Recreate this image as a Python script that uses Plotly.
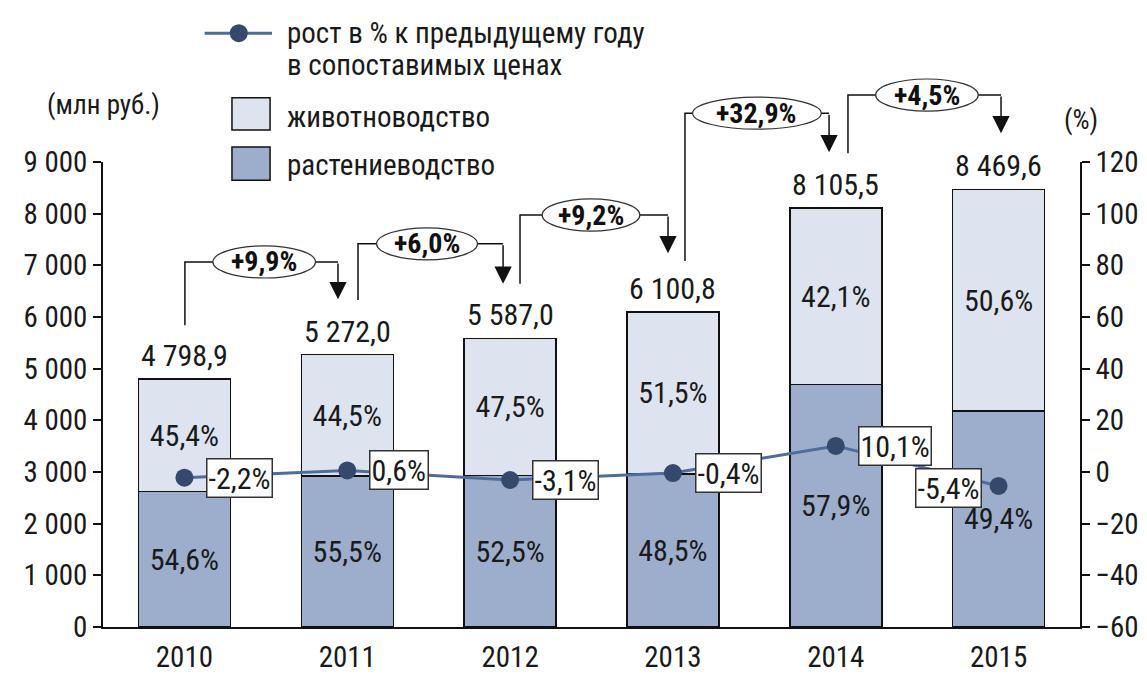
import plotly.graph_objects as go

# ---------------- data ----------------
years = ["2010", "2011", "2012", "2013", "2014", "2015"]
totals = [4798.9, 5272.0, 5587.0, 6100.8, 8105.5, 8469.6]
rast_share = [54.6, 55.5, 52.5, 48.5, 57.9, 49.4]      # растениеводство, %
zhiv_share = [45.4, 44.5, 47.5, 51.5, 42.1, 50.6]      # животноводство, %
rast_values = [2620.2, 2926.0, 2933.2, 2958.9, 4693.1, 4184.0]
zhiv_values = [2178.7, 2346.0, 2653.8, 3141.9, 3412.4, 4285.6]
growth = [-2.2, 0.6, -3.1, -0.4, 10.1, -5.4]            # рост в % к предыдущему году
nominal_growth = ["+9,9%", "+6,0%", "+9,2%", "+32,9%", "+4,5%"]

left_ticks = [0, 1000, 2000, 3000, 4000, 5000, 6000, 7000, 8000, 9000]
right_ticks = [-60, -40, -20, 0, 20, 40, 60, 80, 100, 120]

# ---------------- style ----------------
FONT = "Liberation Sans Narrow, Arial Narrow, Roboto Condensed, DejaVu Sans Condensed, Liberation Sans, sans-serif"
TXT = "#1a1a1a"
FS = 30
LIGHT = "#dde4ef"
DARK = "#9caecb"
LINE_C = "#4d6d9e"
MARK_C = "#34496b"

def fmt(v, nd=1):
    s = f"{v:,.{nd}f}"
    return s.replace(",", " ").replace(".", ",")

def pct(v):
    return fmt(v) + "%"

x_idx = list(range(len(years)))

fig = go.Figure()
fig.add_trace(go.Bar(
    x=x_idx, y=rast_values, name="растениеводство",
    marker=dict(color=DARK, line=dict(color="#111111", width=1.5)),
    text=[pct(v) for v in rast_share], textposition="inside",
    insidetextanchor="middle", textangle=0,
    textfont=dict(family=FONT, size=FS, color=TXT),
    hoverinfo="skip",
))
fig.add_trace(go.Bar(
    x=x_idx, y=zhiv_values, name="животноводство",
    marker=dict(color=LIGHT, line=dict(color="#111111", width=1.5)),
    text=[pct(v) for v in zhiv_share], textposition="inside",
    insidetextanchor="middle", textangle=0,
    textfont=dict(family=FONT, size=FS, color=TXT),
    hoverinfo="skip",
))
fig.add_trace(go.Scatter(
    x=x_idx, y=growth, yaxis="y2", mode="lines+markers",
    name="рост в % к предыдущему году в сопоставимых ценах",
    line=dict(color=LINE_C, width=3),
    marker=dict(color=MARK_C, size=18),
    hoverinfo="skip",
))

annotations = []
shapes = []

# totals above bars
for i, t in enumerate(totals):
    annotations.append(dict(
        x=i, y=t, xref="x", yref="y", text=fmt(t), showarrow=False,
        xanchor="center", yanchor="bottom", yshift=4,
        font=dict(family=FONT, size=FS, color=TXT)))

# growth labels in boxes
for i, g in enumerate(growth):
    last = i == len(growth) - 1
    annotations.append(dict(
        x=i, y=g, xref="x", yref="y2", text=pct(g), showarrow=False,
        xanchor="right" if last else "left", yanchor="middle",
        xshift=-17 if last else 22, yshift=-2 if last else 0,
        bgcolor="white", bordercolor="#333333", borderwidth=1.5, borderpad=1,
        font=dict(family=FONT, size=FS, color=TXT)))

# nominal growth brackets (decoration positions, paper y fractions of plot height)
src_off = [0.003, 0.066, 0.061, 0.074, 0.075]
dst_off = [-0.057, -0.043, -0.03, -0.041, 0.015]
ell_cx = [0.49, 1.49, 2.497, 3.516, 4.56]
ell_w = [0.63, 0.62, 0.60, 0.79, 0.63]
src_bot = [0.649, 0.703, 0.738, 0.787, 1.019]
top_y = [0.785, 0.824, 0.886, 1.105, 1.144]
tip_y = [0.705, 0.738, 0.804, 1.021, 1.062]
ELL_H = 0.069

for k in range(len(nominal_growth)):
    xs = k + src_off[k]
    xd = k + 1 + dst_off[k]
    shapes.append(dict(type="path", xref="x", yref="paper",
                       path=f"M{xs},{src_bot[k]} L{xs},{top_y[k]} L{xd},{top_y[k]}",
                       line=dict(color="#111111", width=1.5)))
    shapes.append(dict(type="circle", xref="x", yref="paper",
                       x0=ell_cx[k] - ell_w[k] / 2, x1=ell_cx[k] + ell_w[k] / 2,
                       y0=top_y[k] - ELL_H / 2, y1=top_y[k] + ELL_H / 2,
                       fillcolor="white", line=dict(color="#333333", width=1.2)))
    annotations.append(dict(x=ell_cx[k], y=top_y[k], xref="x", yref="paper",
                            text="<b>" + nominal_growth[k] + "</b>", showarrow=False,
                            xanchor="center", yanchor="middle",
                            font=dict(family=FONT, size=FS - 2, color="#111111")))
    annotations.append(dict(x=xd, y=tip_y[k], xref="x", yref="paper",
                            ax=0, ay=-(top_y[k] - tip_y[k]) * 465,
                            showarrow=True, arrowhead=2, arrowsize=2.3,
                            arrowwidth=1.5, arrowcolor="#111111", text=""))

# axis unit labels
annotations.append(dict(x=0.0, y=1.123, xref="paper", yref="paper", text="(млн руб.)",
                        showarrow=False, xanchor="center", yanchor="middle",
                        font=dict(family=FONT, size=FS - 3, color=TXT)))
annotations.append(dict(x=1.001, y=1.09, xref="paper", yref="paper", text="(%)",
                        showarrow=False, xanchor="center", yanchor="middle",
                        font=dict(family=FONT, size=FS - 3, color=TXT)))

# custom legend
shapes.append(dict(type="line", xref="paper", yref="paper", x0=0.104, x1=0.173,
                   y0=1.277, y1=1.277, line=dict(color=LINE_C, width=3)))
shapes.append(dict(type="circle", xref="paper", yref="paper", xsizemode="pixel",
                   ysizemode="pixel", xanchor=0.139, yanchor=1.277,
                   x0=-9, x1=9, y0=-9, y1=9, fillcolor=MARK_C, line=dict(width=0)))
shapes.append(dict(type="rect", xref="paper", yref="paper", x0=0.132, x1=0.171,
                   y0=1.069, y1=1.138, fillcolor=LIGHT, line=dict(color="#111111", width=1.5)))
shapes.append(dict(type="rect", xref="paper", yref="paper", x0=0.132, x1=0.171,
                   y0=0.961, y1=1.032, fillcolor=DARK, line=dict(color="#111111", width=1.5)))
for txt, yy in [("рост в % к предыдущему году", 1.277), ("в сопоставимых ценах", 1.209),
                ("животноводство", 1.097), ("растениеводство", 0.994)]:
    annotations.append(dict(x=0.186, y=yy, xref="paper", yref="paper", text=txt,
                            showarrow=False, xanchor="left", yanchor="middle",
                            font=dict(family=FONT, size=FS - 1, color=TXT)))

# page body has an 8px margin: figure is sized/offset to compensate
fig.update_layout(
    width=1131, height=669,
    margin=dict(l=95, r=59, t=154, b=50, autoexpand=False),
    paper_bgcolor="white", plot_bgcolor="white",
    barmode="stack", bargap=0.435,
    showlegend=False,
    separators=", ",
    font=dict(family=FONT, size=FS, color=TXT),
    xaxis=dict(type="linear", range=[-0.5, 5.5], tickvals=x_idx, ticktext=years,
               automargin=False, ticklabelstandoff=3,
               showline=True, linecolor="#111111", linewidth=1.5,
               showgrid=False, zeroline=False, ticks="", ticklen=0,
               tickfont=dict(family=FONT, size=FS - 1, color=TXT)),
    yaxis=dict(range=[0, 9000], tickvals=left_ticks, separatethousands=True,
               automargin=False,
               showline=True, linecolor="#111111", linewidth=1.5,
               ticks="outside", ticklen=8, tickwidth=1.5, tickcolor="#111111",
               showgrid=False, zeroline=False,
               tickfont=dict(family=FONT, size=FS - 1, color=TXT)),
    yaxis2=dict(range=[-60, 120], tickvals=right_ticks, overlaying="y", side="right",
                automargin=False,
                showline=True, linecolor="#111111", linewidth=1.5,
                ticks="outside", ticklen=8, tickwidth=1.5, tickcolor="#111111",
                showgrid=False, zeroline=False,
                tickfont=dict(family=FONT, size=FS - 1, color=TXT)),
    annotations=annotations,
    shapes=shapes,
)

fig.write_html("out.html")
